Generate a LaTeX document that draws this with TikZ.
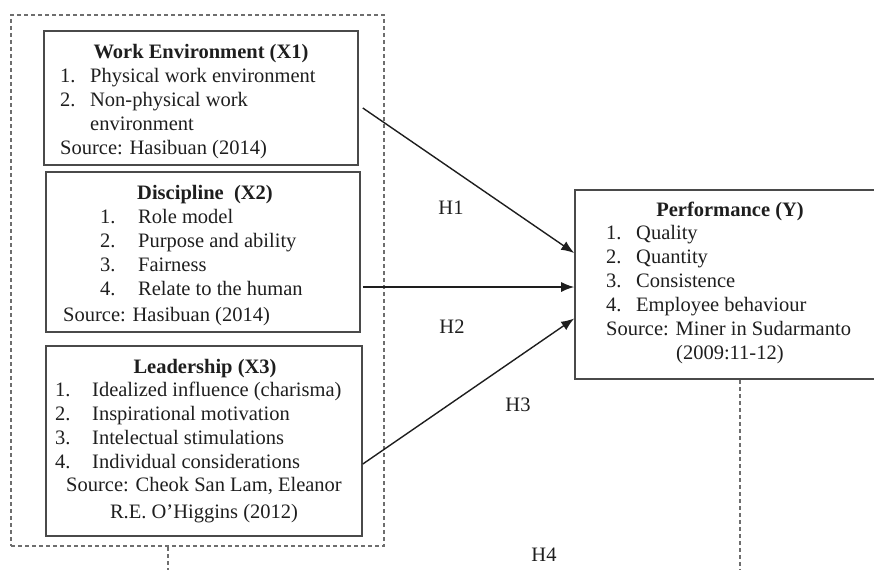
\documentclass[tikz,border=0pt]{standalone}
\usepackage{fontspec}
\setmainfont{Liberation Serif}
\usetikzlibrary{arrows.meta}
\definecolor{txt}{HTML}{1E1E1E}
\definecolor{boxline}{HTML}{4A4A4A}
\definecolor{dashline}{HTML}{6E6E6E}
\tikzset{
  varbox/.style={draw=boxline, line width=1.6pt, rectangle, inner sep=0pt},
  outerbox/.style={draw=dashline, line width=2.2pt, dash pattern=on 4pt off 3pt, rectangle, inner sep=0pt},
  title/.style={font=\fontsize{20.5}{24}\selectfont\bfseries, text=txt, inner sep=0pt, anchor=base},
  listtxt/.style={font=\fontsize{20.5}{24}\selectfont, text=txt, inner sep=0pt, anchor=north west, align=left},
  ctrtxt/.style={font=\fontsize{20.5}{27}\selectfont, text=txt, inner sep=0pt, anchor=north, align=center},
  hyp/.style={font=\fontsize{20.5}{24}\selectfont, text=txt, inner sep=0pt},
  link/.style={draw=txt, line width=1.4pt, -{Latex[length=13pt,width=10pt]}},
  vdash/.style={draw=dashline, line width=2.2pt, dash pattern=on 4pt off 3pt}
}
\begin{document}
\begin{tikzpicture}[x=1pt,y=-1pt]
\useasboundingbox (0,0) rectangle (874,570);
\clip (0,0) rectangle (874,570);
% outer dashed group
\node[outerbox, minimum width=373pt, minimum height=531pt] (outer) at (197.5,280.5) {};
% boxes
\node[varbox, minimum width=314pt, minimum height=134pt] (x1) at (201,98) {};
\node[varbox, minimum width=314pt, minimum height=160pt] (x2) at (203,252) {};
\node[varbox, minimum width=316pt, minimum height=190pt] (x3) at (204,441) {};
\node[varbox, minimum width=316pt, minimum height=189pt] (y) at (733,284.5) {};
% X1 text
\node[title] (x1t) at (201,58) {Work Environment (X1)};
\node[listtxt] (x1l) at (60,65.2) {\strut\makebox[30pt][l]{1.}Physical work environment\\
\strut\makebox[30pt][l]{2.}Non-physical work\\
\strut\hspace*{30pt}environment\\
\strut Source: Hasibuan (2014)};
% X2 text
\node[title] (x2t) at (205,199) {Discipline\ \ (X2)};
\node[listtxt] (x2l) at (100,206.2) {\strut\makebox[38pt][l]{1.}Role model\\
\strut\makebox[38pt][l]{2.}Purpose and ability\\
\strut\makebox[38pt][l]{3.}Fairness\\
\strut\makebox[38pt][l]{4.}Relate to the human};
\node[title, font=\fontsize{20.5}{24}\selectfont, anchor=base west] (x2s) at (63,321) {Source: Hasibuan (2014)};
% X3 text
\node[title] (x3t) at (205,373) {Leadership (X3)};
\node[listtxt] (x3l) at (55,379.2) {\strut\makebox[37pt][l]{1.}Idealized influence (charisma)\\
\strut\makebox[37pt][l]{2.}Inspirational motivation\\
\strut\makebox[37pt][l]{3.}Intelectual stimulations\\
\strut\makebox[37pt][l]{4.}Individual considerations};
\node[ctrtxt] (x3s) at (204,472.1) {\strut Source: Cheok San Lam, Eleanor\\
\strut R.E. O'Higgins (2012)};
% Y text
\node[title] (yt) at (730,216) {Performance (Y)};
\node[listtxt] (yl) at (606,222.2) {\strut\makebox[30pt][l]{1.}Quality\\
\strut\makebox[30pt][l]{2.}Quantity\\
\strut\makebox[30pt][l]{3.}Consistence\\
\strut\makebox[30pt][l]{4.}Employee behaviour\\
\strut Source: Miner in Sudarmanto\\
\strut\hspace*{70pt}(2009:11-12)};
% hypotheses labels
\node[hyp] (h1) at (451,208) {H1};
\node[hyp] (h2) at (452,327) {H2};
\node[hyp] (h3) at (518,405) {H3};
\node[hyp] (h4) at (544,555) {H4};
% arrows
\draw[link] ([xshift=4pt,yshift=-10pt]x1.east) -- ([yshift=31.5pt]y.west);
\draw[link] ([xshift=2pt,yshift=-35pt]x2.east) -- ([yshift=-2.5pt]y.west);
\draw[link] ([xshift=0pt,yshift=-23pt]x3.east) -- ([yshift=-34pt]y.west);
% dashed connectors
\coordinate (d1) at (168,570);
\coordinate (d2) at (740,570);
\draw[vdash] (outer.south -| d1) -- (d1);
\draw[vdash] (y.south -| d2) -- (d2);
\end{tikzpicture}
\end{document}
